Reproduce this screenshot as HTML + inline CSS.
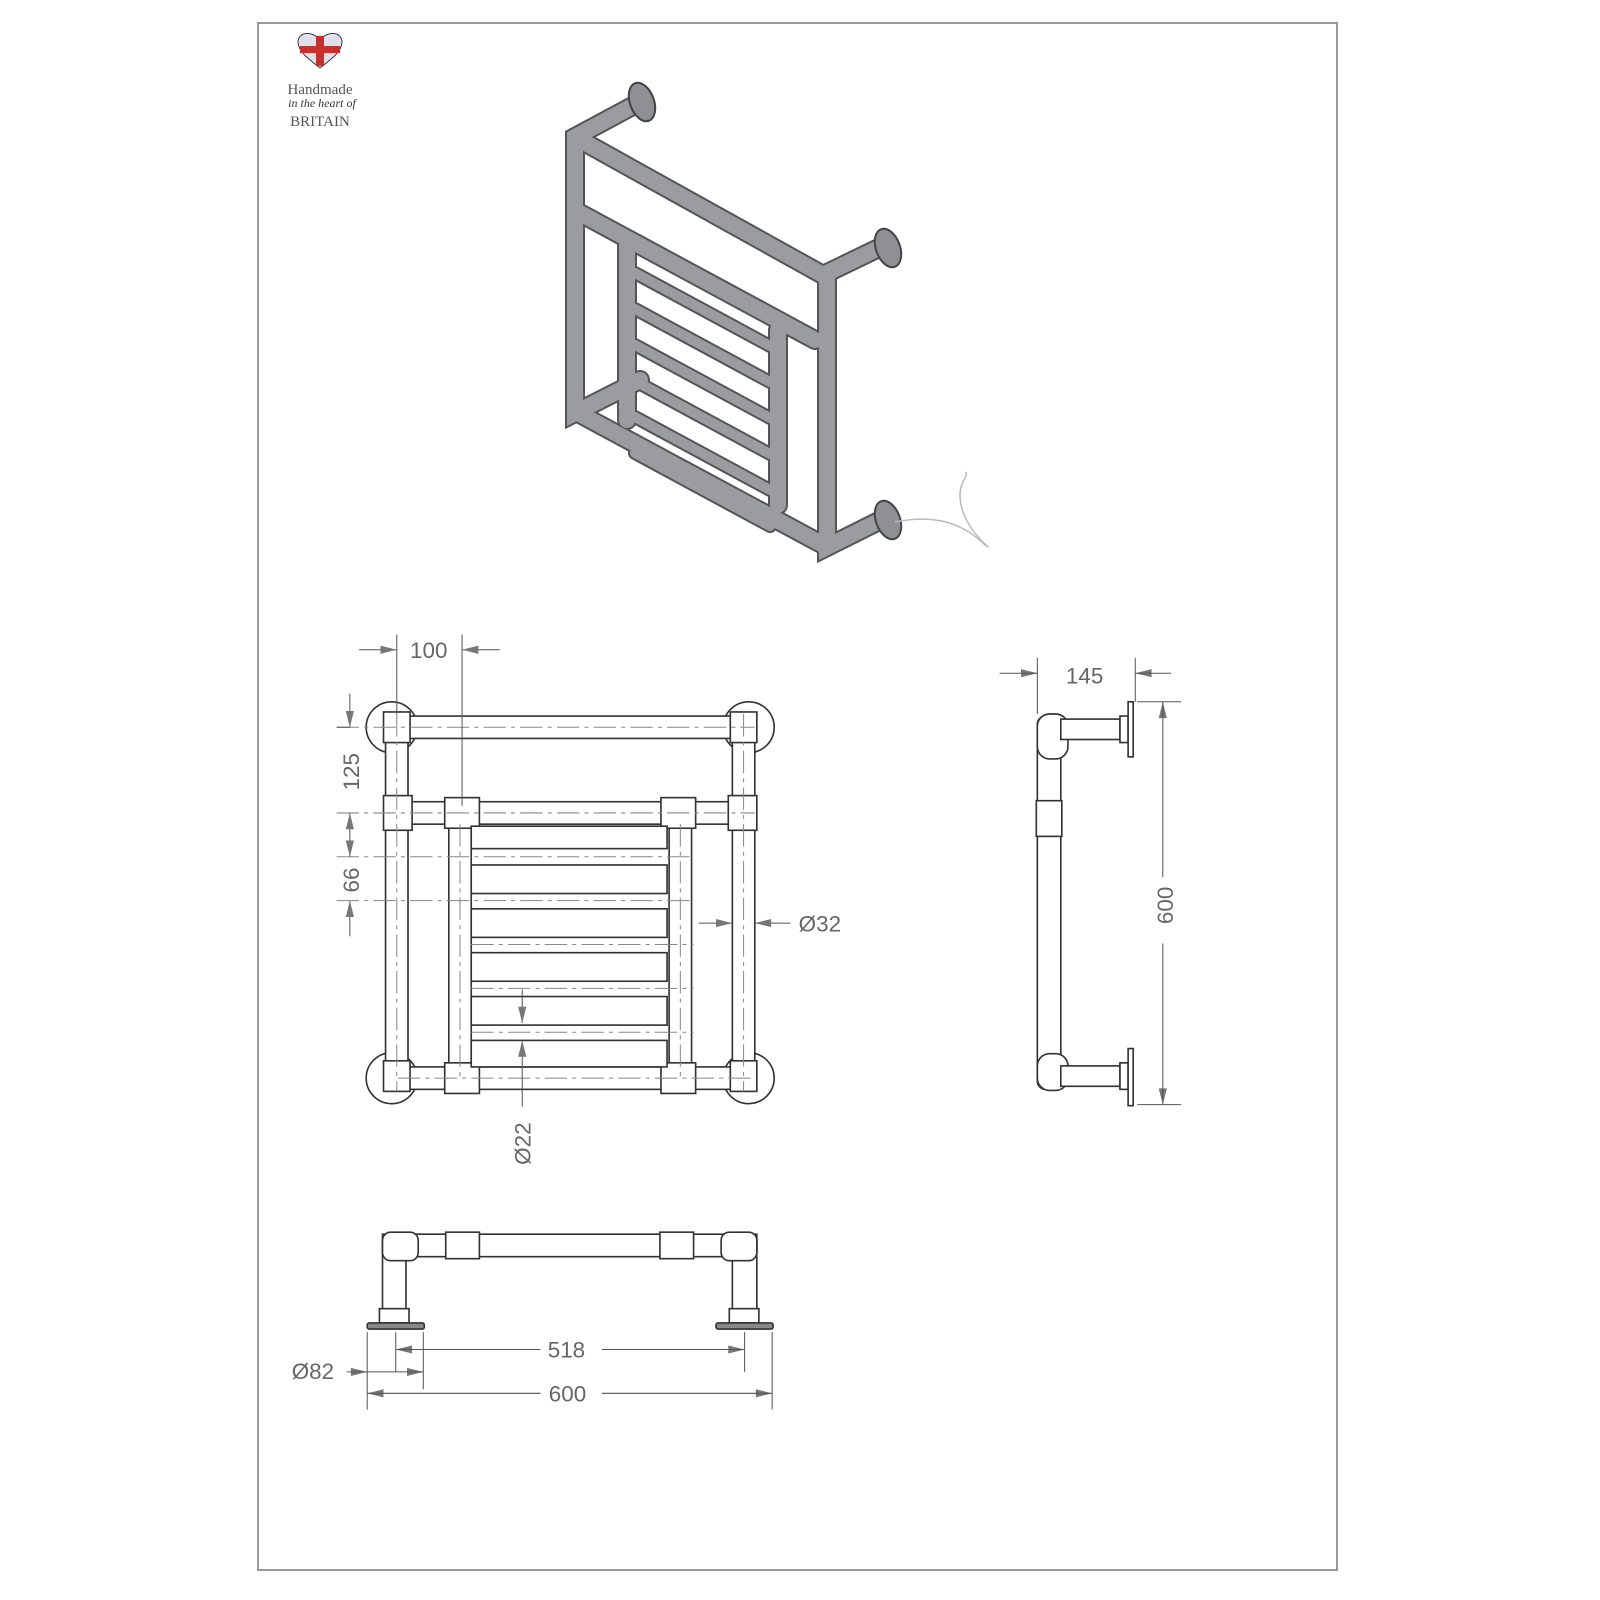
<!DOCTYPE html>
<html><head><meta charset="utf-8"><style>html,body{margin:0;padding:0;background:#fff}svg{display:block}</style></head>
<body>
<svg width="1600" height="1600" viewBox="0 0 1600 1600" xmlns="http://www.w3.org/2000/svg" font-family="Liberation Sans, sans-serif">
<rect x="258" y="23" width="1079" height="1547" fill="none" stroke="#999" stroke-width="2"/>
<!-- logo -->
<g transform="translate(320,52)">
<path d="M0,16 C-10,8 -22,0 -22,-10 C-22,-20 -8,-22 0,-12 C8,-22 22,-20 22,-10 C22,0 10,8 0,16Z" fill="#dfe0e8" stroke="#334" stroke-width="1"/>
<path d="M-4,-16 L4,-16 L4,-6 L20,-6 L20,1 L4,1 L4,14 L-4,14 L-4,1 L-20,1 L-20,-6 L-4,-6Z" fill="#c8302e"/>
</g>
<text x="320" y="94" font-family="Liberation Serif, serif" font-size="15" fill="#555" text-anchor="middle">Handmade</text>
<text x="322" y="107" font-family="Liberation Serif, serif" font-style="italic" font-size="12" fill="#333" text-anchor="middle">in the heart of</text>
<text x="320" y="126" font-family="Liberation Serif, serif" font-size="15" fill="#555" text-anchor="middle">BRITAIN</text>

<!-- isometric -->
<g stroke-linecap="round" fill="none">
<g stroke="#555" stroke-width="20">
<path d="M640,102 L575,137 L575,413 L640,380"/>
<path d="M575,137 L823,275 L885,245"/>
<path d="M578,212 L815,340"/>
<path d="M827,275 L827,547 L885,518"/>
<path d="M578,413 L827,547"/>
<path d="M627,245 L627,420"/>
<path d="M778,330 L778,505"/>
</g>
<g stroke="#555" stroke-width="14">
<path d="M635,273 L770,346 M635,309 L770,382 M635,345 L770,418 M635,381 L770,454 M635,417 L770,490 M635,453 L770,526"/>
</g>
<g stroke="#9a9c9f" stroke-width="16">
<path d="M640,102 L575,137 L575,413 L640,380"/>
<path d="M575,137 L823,275 L885,245"/>
<path d="M578,212 L815,340"/>
<path d="M827,275 L827,547 L885,518"/>
<path d="M578,413 L827,547"/>
<path d="M627,245 L627,420"/>
<path d="M778,330 L778,505"/>
</g>
<g stroke="#9a9c9f" stroke-width="10">
<path d="M635,273 L770,346 M635,309 L770,382 M635,345 L770,418 M635,381 L770,454 M635,417 L770,490 M635,453 L770,526"/>
</g>
</g>
<g fill="#8e9094" stroke="#444" stroke-width="2">
<ellipse cx="642" cy="102" rx="12" ry="20" transform="rotate(-20 642 102)"/>
<ellipse cx="888" cy="248" rx="12" ry="20" transform="rotate(-20 888 248)"/>
<ellipse cx="888" cy="520" rx="12" ry="20" transform="rotate(-20 888 520)"/>
</g>
<path d="M895,522 C930,515 960,520 985,545 C1000,555 960,530 960,495 C960,480 970,475 965,472" fill="none" stroke="#bbb" stroke-width="1.5"/>

<g transform="scale(1.02)" stroke="#333" stroke-width="1.6" fill="#fff">
<!-- front view -->
<circle cx="384" cy="713" r="25"/><circle cx="734" cy="713" r="25"/>
<circle cx="384" cy="1057" r="25"/><circle cx="734" cy="1057" r="25"/>
<rect x="378" y="702" width="362" height="22" rx="8"/>
<rect x="378" y="702" width="22" height="366" rx="8"/>
<rect x="718" y="702" width="22" height="366" rx="8"/>
<rect x="378" y="786" width="362" height="22"/>
<rect x="378" y="1046" width="362" height="22"/>
<rect x="440" y="808" width="22" height="238"/>
<rect x="656" y="808" width="22" height="238"/>
<rect x="376" y="780" width="28" height="34"/><rect x="714" y="780" width="28" height="34"/>
<rect x="436" y="782" width="34" height="30"/><rect x="648" y="782" width="34" height="30"/>
<rect x="436" y="1042" width="34" height="30"/><rect x="648" y="1042" width="34" height="30"/>
<rect x="376" y="698" width="26" height="30"/><rect x="716" y="698" width="26" height="30"/>
<rect x="376" y="1040" width="26" height="30"/><rect x="716" y="1040" width="26" height="30"/>
<rect x="462" y="810" width="192" height="22"/>
<rect x="462" y="848" width="192" height="28"/>
<rect x="462" y="891" width="192" height="28"/>
<rect x="462" y="934" width="192" height="28"/>
<rect x="462" y="977" width="192" height="28"/>
<rect x="462" y="1020" width="192" height="26"/>
<g fill="none" stroke="#888" stroke-width="1" stroke-dasharray="22,5,4,5">
<path d="M330,713 L740,713 M330,797 L740,797 M330,840 L680,840 M330,883 L680,883 M462,926 L680,926 M462,969 L680,969 M462,1012 L680,1012 M390,1057 L740,1057 M389,700 L389,1070 M451,808 L451,1060 M667,808 L667,1060 M729,700 L729,1070"/>
</g>
<g stroke="#555" stroke-width="1" fill="none">
<path d="M389,622 L389,700 M453,622 L453,790 M352,637 L389,637 M453,637 L490,637"/>
<path d="M343,680 L343,713 M343,797 L343,840 M343,883 L343,918 M330,713 L343,713"/>
<path d="M685,905 L718,905 M740,905 L775,905"/>
<path d="M512,970 L512,1003 M512,1020 L512,1085"/>
</g>
<g fill="#777" stroke="none">
<!-- arrowheads -->
<path d="M389,637 l-16,-4 v8z M453,637 l16,-4 v8z"/>
<path d="M343,713 l-4,-16 h8z M343,797 l-4,16 h8z M343,840 l-4,-16 h8z M343,883 l-4,16 h8z"/>
<path d="M718,905 l-16,-4 v8z M740,905 l16,-4 v8z"/>
<path d="M512,1003 l-4,-16 h8z M512,1020 l-4,16 h8z"/>
<path d="M1017,660 l-16,-4 v8z M1113,660 l16,-4 v8z"/>
<path d="M1140,688 l-4,16 h8z M1140,1083 l-4,-16 h8z"/>
<path d="M388,1323 l16,-4 v8z M730,1323 l-16,-4 v8z"/>
<path d="M360,1345 l-16,-4 v8z M415,1345 l-16,-4 v8z"/>
<path d="M360,1366 l16,-4 v8z M757,1366 l-16,-4 v8z"/>
</g>
<g fill="#666" stroke="none" font-size="22">
<text x="402" y="645">100</text>
<text transform="translate(352,775) rotate(-90)">125</text>
<text transform="translate(352,875) rotate(-90)">66</text>
<text x="783" y="913">Ø32</text>
<text transform="translate(520,1142) rotate(-90)">Ø22</text>
<text x="1045" y="670">145</text>
<text transform="translate(1150,906) rotate(-90)">600</text>
<text x="537" y="1331">518</text>
<text x="538" y="1374">600</text>
<text x="286" y="1352">Ø82</text>
</g>
<!-- side view -->
<rect x="1017" y="702" width="23" height="366" rx="8"/>
<rect x="1017" y="700" width="30" height="44" rx="12"/>
<rect x="1040" y="705" width="58" height="20"/>
<rect x="1098" y="702" width="8" height="26"/>
<rect x="1106" y="688" width="5" height="54"/>
<rect x="1016" y="785" width="25" height="35"/>
<rect x="1017" y="1033" width="30" height="36" rx="12"/>
<rect x="1040" y="1045" width="58" height="20"/>
<rect x="1098" y="1042" width="8" height="26"/>
<rect x="1106" y="1028" width="5" height="56"/>
<g stroke="#555" stroke-width="1" fill="none">
<path d="M1017,645 L1017,700 M1113,645 L1113,688 M980,660 L1017,660 M1113,660 L1148,660"/>
<path d="M1115,688 L1158,688 M1115,1083 L1158,1083 M1140,688 L1140,860 M1140,925 L1140,1083"/>
</g>
<!-- bottom view -->
<rect x="375" y="1210" width="367" height="22" rx="8"/>
<rect x="375" y="1210" width="23" height="80"/>
<rect x="718" y="1210" width="24" height="80"/>
<rect x="375" y="1208" width="35" height="28" rx="8"/><rect x="707" y="1208" width="35" height="28" rx="8"/>
<rect x="437" y="1208" width="33" height="26"/><rect x="647" y="1208" width="33" height="26"/>
<rect x="372" y="1283" width="29" height="14"/><rect x="715" y="1283" width="29" height="14"/>
<rect x="360" y="1297" width="56" height="6" rx="2" fill="#888"/>
<rect x="702" y="1297" width="56" height="6" rx="2" fill="#888"/>
<g stroke="#555" stroke-width="1" fill="none">
<path d="M360,1306 L360,1382 M757,1306 L757,1382 M388,1306 L388,1345 M415,1306 L415,1362 M730,1306 L730,1345"/>
<path d="M388,1323 L530,1323 M590,1323 L730,1323 M360,1366 L530,1366 M590,1366 L757,1366 M340,1345 L415,1345"/>
</g>
</g>
</svg>
</body></html>
